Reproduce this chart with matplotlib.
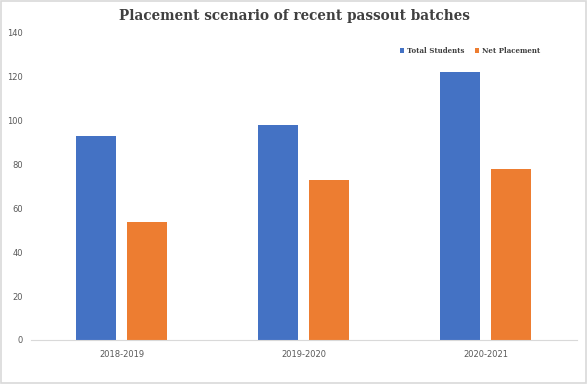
import matplotlib.pyplot as plt
import matplotlib.patches as patches
import numpy as np

batches = ['2018-2019', '2019-2020', '2020-2021']
total_students = [93, 98, 122]
net_placement = [54, 73, 78]
y_ticks = [0, 20, 40, 60, 80, 100, 120, 140]

blue = '#4472C4'
orange = '#ED7D31'
tick_color = '#595959'

fig = plt.figure(figsize=(5.88, 3.84), dpi=100)
ax = fig.add_axes([0.0527, 0.1146, 0.928, 0.7995])

# light border round the whole chart
fig.patches.append(patches.Rectangle((0.002, 0.003), 0.995, 0.994, transform=fig.transFigure,
                                     fill=False, edgecolor='#d9d9d9', linewidth=1.2))

x = np.arange(len(batches))
w = 0.22
ax.bar(x - 0.143, total_students, w, color=blue, label='Total Students')
ax.bar(x + 0.14, net_placement, w, color=orange, label='Net Placement')

ax.set_xlim(-0.5, 2.5)
ax.set_ylim(0, 140)
ax.set_yticks(y_ticks)
ax.set_xticks(x)
ax.set_xticklabels(batches)
ax.tick_params(axis='both', length=0, labelsize=6, colors=tick_color)
ax.tick_params(axis='x', pad=7)
ax.tick_params(axis='y', pad=6)

for side in ['top', 'right', 'left']:
    ax.spines[side].set_visible(False)
ax.spines['bottom'].set_color('#d9d9d9')

fig.text(0.5, 0.958, 'Placement scenario of recent passout batches', ha='center', va='center',
         family='DejaVu Serif', fontweight='bold', fontsize=9.8, color='#404040')

ax.legend(loc='upper right', bbox_to_anchor=(0.945, 0.975), ncol=2, frameon=False,
          handlelength=0.6, handleheight=0.6, handletextpad=0.4, columnspacing=1.6,
          prop={'family': 'DejaVu Serif', 'weight': 'bold', 'size': 5}, labelcolor='#404040')

fig.savefig('out.png', dpi=100)
